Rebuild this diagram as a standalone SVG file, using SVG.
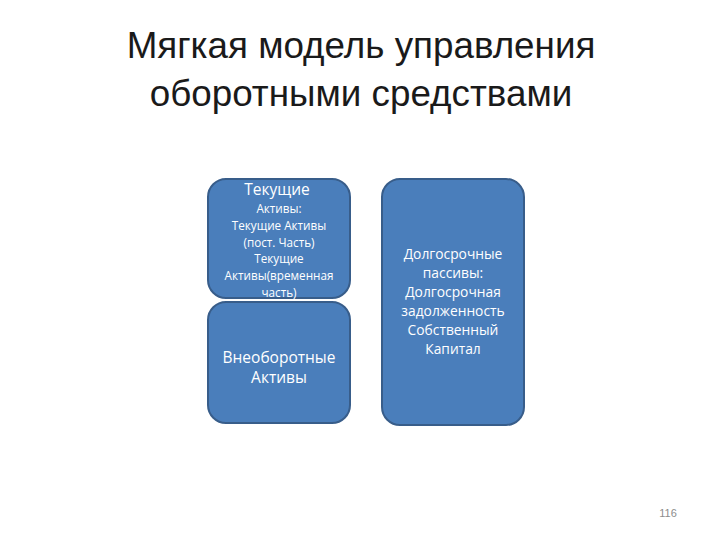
<svg xmlns="http://www.w3.org/2000/svg" width="720" height="540" viewBox="0 0 720 540">
<style>
.title{font-family:"Liberation Sans","Open Sans",sans-serif;font-size:36.8px;fill:#1a1a1a;text-anchor:middle}
.box{fill:#4a7ebb;stroke:#385d8a;stroke-width:2}
.t{font-family:"Open Sans","Liberation Sans",sans-serif;fill:#fff;text-anchor:middle}
.big{font-size:15.5px}
.sm{font-size:11.7px}
.md{font-size:13.8px}
.num{font-family:"Liberation Sans",sans-serif;font-size:11px;fill:#8c8c8c;text-anchor:middle}
</style>
<rect width="720" height="540" fill="#fff"/>
<text class="title" x="361" y="58">Мягкая модель управления</text>
<text class="title" x="361" y="106">оборотными средствами</text>
<g id="current-assets">
<rect class="box" x="208" y="179" width="142" height="119" rx="18"/>
<text class="t big" x="277" y="195">Текущие</text>
<text class="t sm" x="279" y="213">Активы:</text>
<text class="t sm" x="279" y="230">Текущие Активы</text>
<text class="t sm" x="279" y="247">(пост. Часть)</text>
<text class="t sm" x="279" y="263">Текущие</text>
<text class="t sm" x="279" y="280">Активы(временная</text>
<text class="t sm" x="279" y="297">часть)</text>
</g>
<g id="noncurrent-assets">
<rect class="box" x="208" y="302" width="142" height="121" rx="18"/>
<text class="t big" x="279" y="363">Внеоборотные</text>
<text class="t big" x="279" y="383">Активы</text>
</g>
<g id="long-term-liabilities">
<rect class="box" x="382" y="179" width="142" height="246" rx="18"/>
<text class="t md" x="453" y="259">Долгосрочные</text>
<text class="t md" x="453" y="278">пассивы:</text>
<text class="t md" x="453" y="297">Долгосрочная</text>
<text class="t md" x="453" y="316">задолженность</text>
<text class="t md" x="453" y="335">Собственный</text>
<text class="t md" x="453" y="354">Капитал</text>
</g>
<g id="connectors"></g>
<text class="num" x="668" y="517">116</text>
</svg>
